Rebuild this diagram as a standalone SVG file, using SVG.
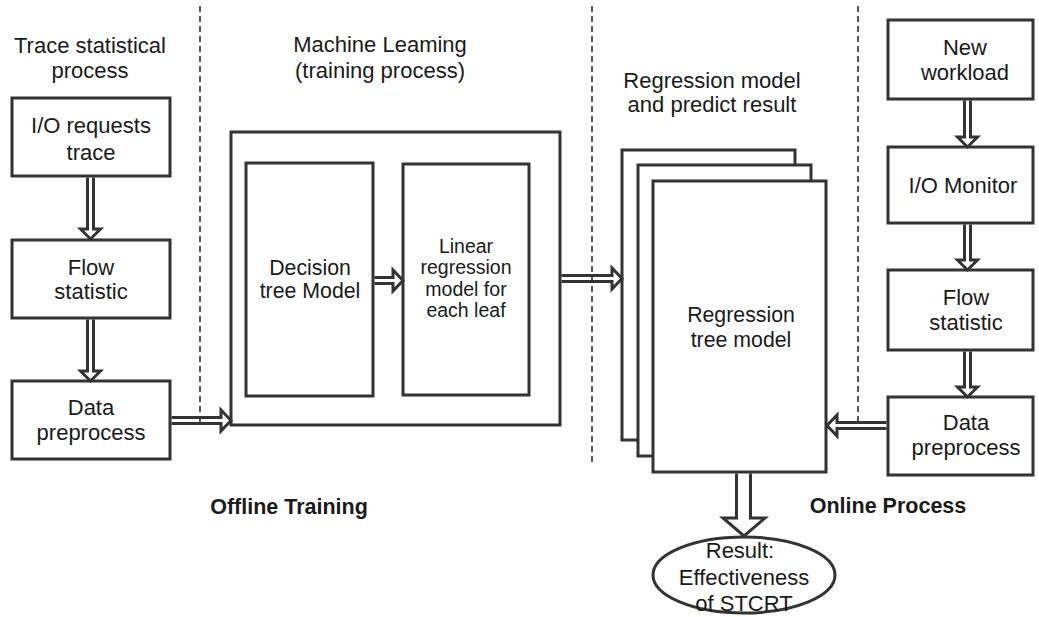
<svg xmlns="http://www.w3.org/2000/svg" width="1039" height="617" viewBox="0 0 1039 617">
  <style>
    .box { fill: #ffffff; stroke: #333333; stroke-width: 3; }
    .txt { font-family: "Liberation Sans", Arial, sans-serif; font-size: 22px; fill: #1a1a1a; text-anchor: middle; }
    .bold { font-weight: bold; font-size: 21.5px; }
    .small { font-size: 19.5px; }
    .mid { font-size: 21.3px; }
    .arrow { fill: none; stroke: #333333; stroke-width: 3; stroke-linejoin: miter; }
    .divider { stroke: #222222; stroke-width: 1.5; stroke-dasharray: 6 4; fill: none; }
  </style>

  <!-- section dividers -->
  <g id="dividers">
    <line class="divider" x1="200" y1="6" x2="200" y2="426"/>
    <line class="divider" x1="592" y1="6" x2="592" y2="464"/>
    <line class="divider" x1="858" y1="6" x2="858" y2="426"/>
  </g>

  <!-- section headings -->
  <g id="headings">
    <text class="txt" x="90" y="53">Trace statistical</text>
    <text class="txt" x="90" y="78">process</text>
    <text class="txt" x="380" y="52">Machine Leaming</text>
    <text class="txt" x="380" y="78">(training process)</text>
    <text class="txt" x="712" y="88">Regression model</text>
    <text class="txt" x="712" y="112">and predict result</text>
    <text class="txt bold" x="289" y="514">Offline Training</text>
    <text class="txt bold" x="888" y="513">Online Process</text>
  </g>

  <!-- trace statistical process -->
  <g id="io-requests-trace">
    <rect class="box" x="12" y="98" width="158" height="78"/>
    <text class="txt" x="91" y="133">I/O requests</text>
    <text class="txt" x="91" y="160">trace</text>
  </g>
  <g id="flow-statistic-left">
    <rect class="box" x="12" y="240" width="158" height="78"/>
    <text class="txt" x="91" y="275">Flow</text>
    <text class="txt" x="91" y="299">statistic</text>
  </g>
  <g id="data-preprocess-left">
    <rect class="box" x="12" y="381" width="158" height="78"/>
    <text class="txt" x="91" y="415">Data</text>
    <text class="txt" x="91" y="440">preprocess</text>
  </g>

  <!-- machine learning -->
  <g id="machine-learning">
    <rect class="box" x="231" y="132" width="329" height="293"/>
  </g>
  <g id="decision-tree">
    <rect class="box" x="246" y="163" width="127" height="233"/>
    <text class="txt mid" x="310" y="275">Decision</text>
    <text class="txt mid" x="310" y="298">tree Model</text>
  </g>
  <g id="linear-regression">
    <rect class="box" x="403" y="164" width="126" height="231"/>
    <text class="txt small" x="466" y="253">Linear</text>
    <text class="txt small" x="466" y="274">regression</text>
    <text class="txt small" x="466" y="296">model for</text>
    <text class="txt small" x="466" y="317">each leaf</text>
  </g>

  <!-- regression model stack -->
  <g id="regression-tree-model">
    <rect class="box" x="622" y="150" width="173" height="290"/>
    <rect class="box" x="638" y="165" width="173" height="291"/>
    <rect class="box" x="653" y="181" width="173" height="291"/>
    <text class="txt mid" x="741" y="322">Regression</text>
    <text class="txt mid" x="741" y="347">tree model</text>
  </g>

  <!-- result -->
  <g id="result">
    <ellipse cx="744" cy="575" rx="91" ry="38" fill="#ffffff" stroke="#333333" stroke-width="3"/>
    <text class="txt" x="740" y="558">Result:</text>
    <text class="txt" x="744" y="585">Effectiveness</text>
    <text class="txt" x="744" y="611">of STCRT</text>
  </g>

  <!-- online process -->
  <g id="new-workload">
    <rect class="box" x="888" y="20" width="145" height="79"/>
    <text class="txt" x="965" y="55">New</text>
    <text class="txt" x="965" y="80">workload</text>
  </g>
  <g id="io-monitor">
    <rect class="box" x="888" y="147" width="145" height="76"/>
    <text class="txt" x="963" y="193">I/O Monitor</text>
  </g>
  <g id="flow-statistic-right">
    <rect class="box" x="888" y="270" width="145" height="80"/>
    <text class="txt" x="966" y="305">Flow</text>
    <text class="txt" x="966" y="330">statistic</text>
  </g>
  <g id="data-preprocess-right">
    <rect class="box" x="888" y="397" width="145" height="78"/>
    <text class="txt" x="966" y="430">Data</text>
    <text class="txt" x="966" y="455">preprocess</text>
  </g>

  <!-- connectors -->
  <g id="connectors">
    <!-- left column, downward -->
    <path class="arrow" d="M87.5 177.5 V229 H80.5 L90.5 239 L100.5 229 H93.5 V177.5"/>
    <path class="arrow" d="M87.5 319.5 V371 H80.5 L90.5 381 L100.5 371 H93.5 V319.5"/>
    <!-- data preprocess to machine learning -->
    <path class="arrow" d="M171.5 417.5 H221 V410 L231 420.5 L221 431 V423.5 H171.5"/>
    <!-- decision tree to linear regression -->
    <path class="arrow" d="M374.5 277.5 H393 V270 L403 280.5 L393 291 V283.5 H374.5"/>
    <!-- machine learning to regression model -->
    <path class="arrow" d="M561.5 275.5 H612 V268 L622 278.5 L612 289 V281.5 H561.5"/>
    <!-- right column, downward -->
    <path class="arrow" d="M964.5 100.5 V137 H957.5 L967.5 147 L977.5 137 H970.5 V100.5"/>
    <path class="arrow" d="M964.5 224.5 V260 H957.5 L967.5 270 L977.5 260 H970.5 V224.5"/>
    <path class="arrow" d="M964.5 351.5 V387 H957.5 L967.5 397 L977.5 387 H970.5 V351.5"/>
    <!-- online data preprocess to regression model -->
    <path class="arrow" d="M886.5 422.5 H837 V415 L827 425.5 L837 436 V428.5 H886.5"/>
    <!-- regression model to result -->
    <path class="arrow" d="M736.5 473.5 V518 H723 L744 536 L765 518 H750.5 V473.5"/>
  </g>
</svg>
